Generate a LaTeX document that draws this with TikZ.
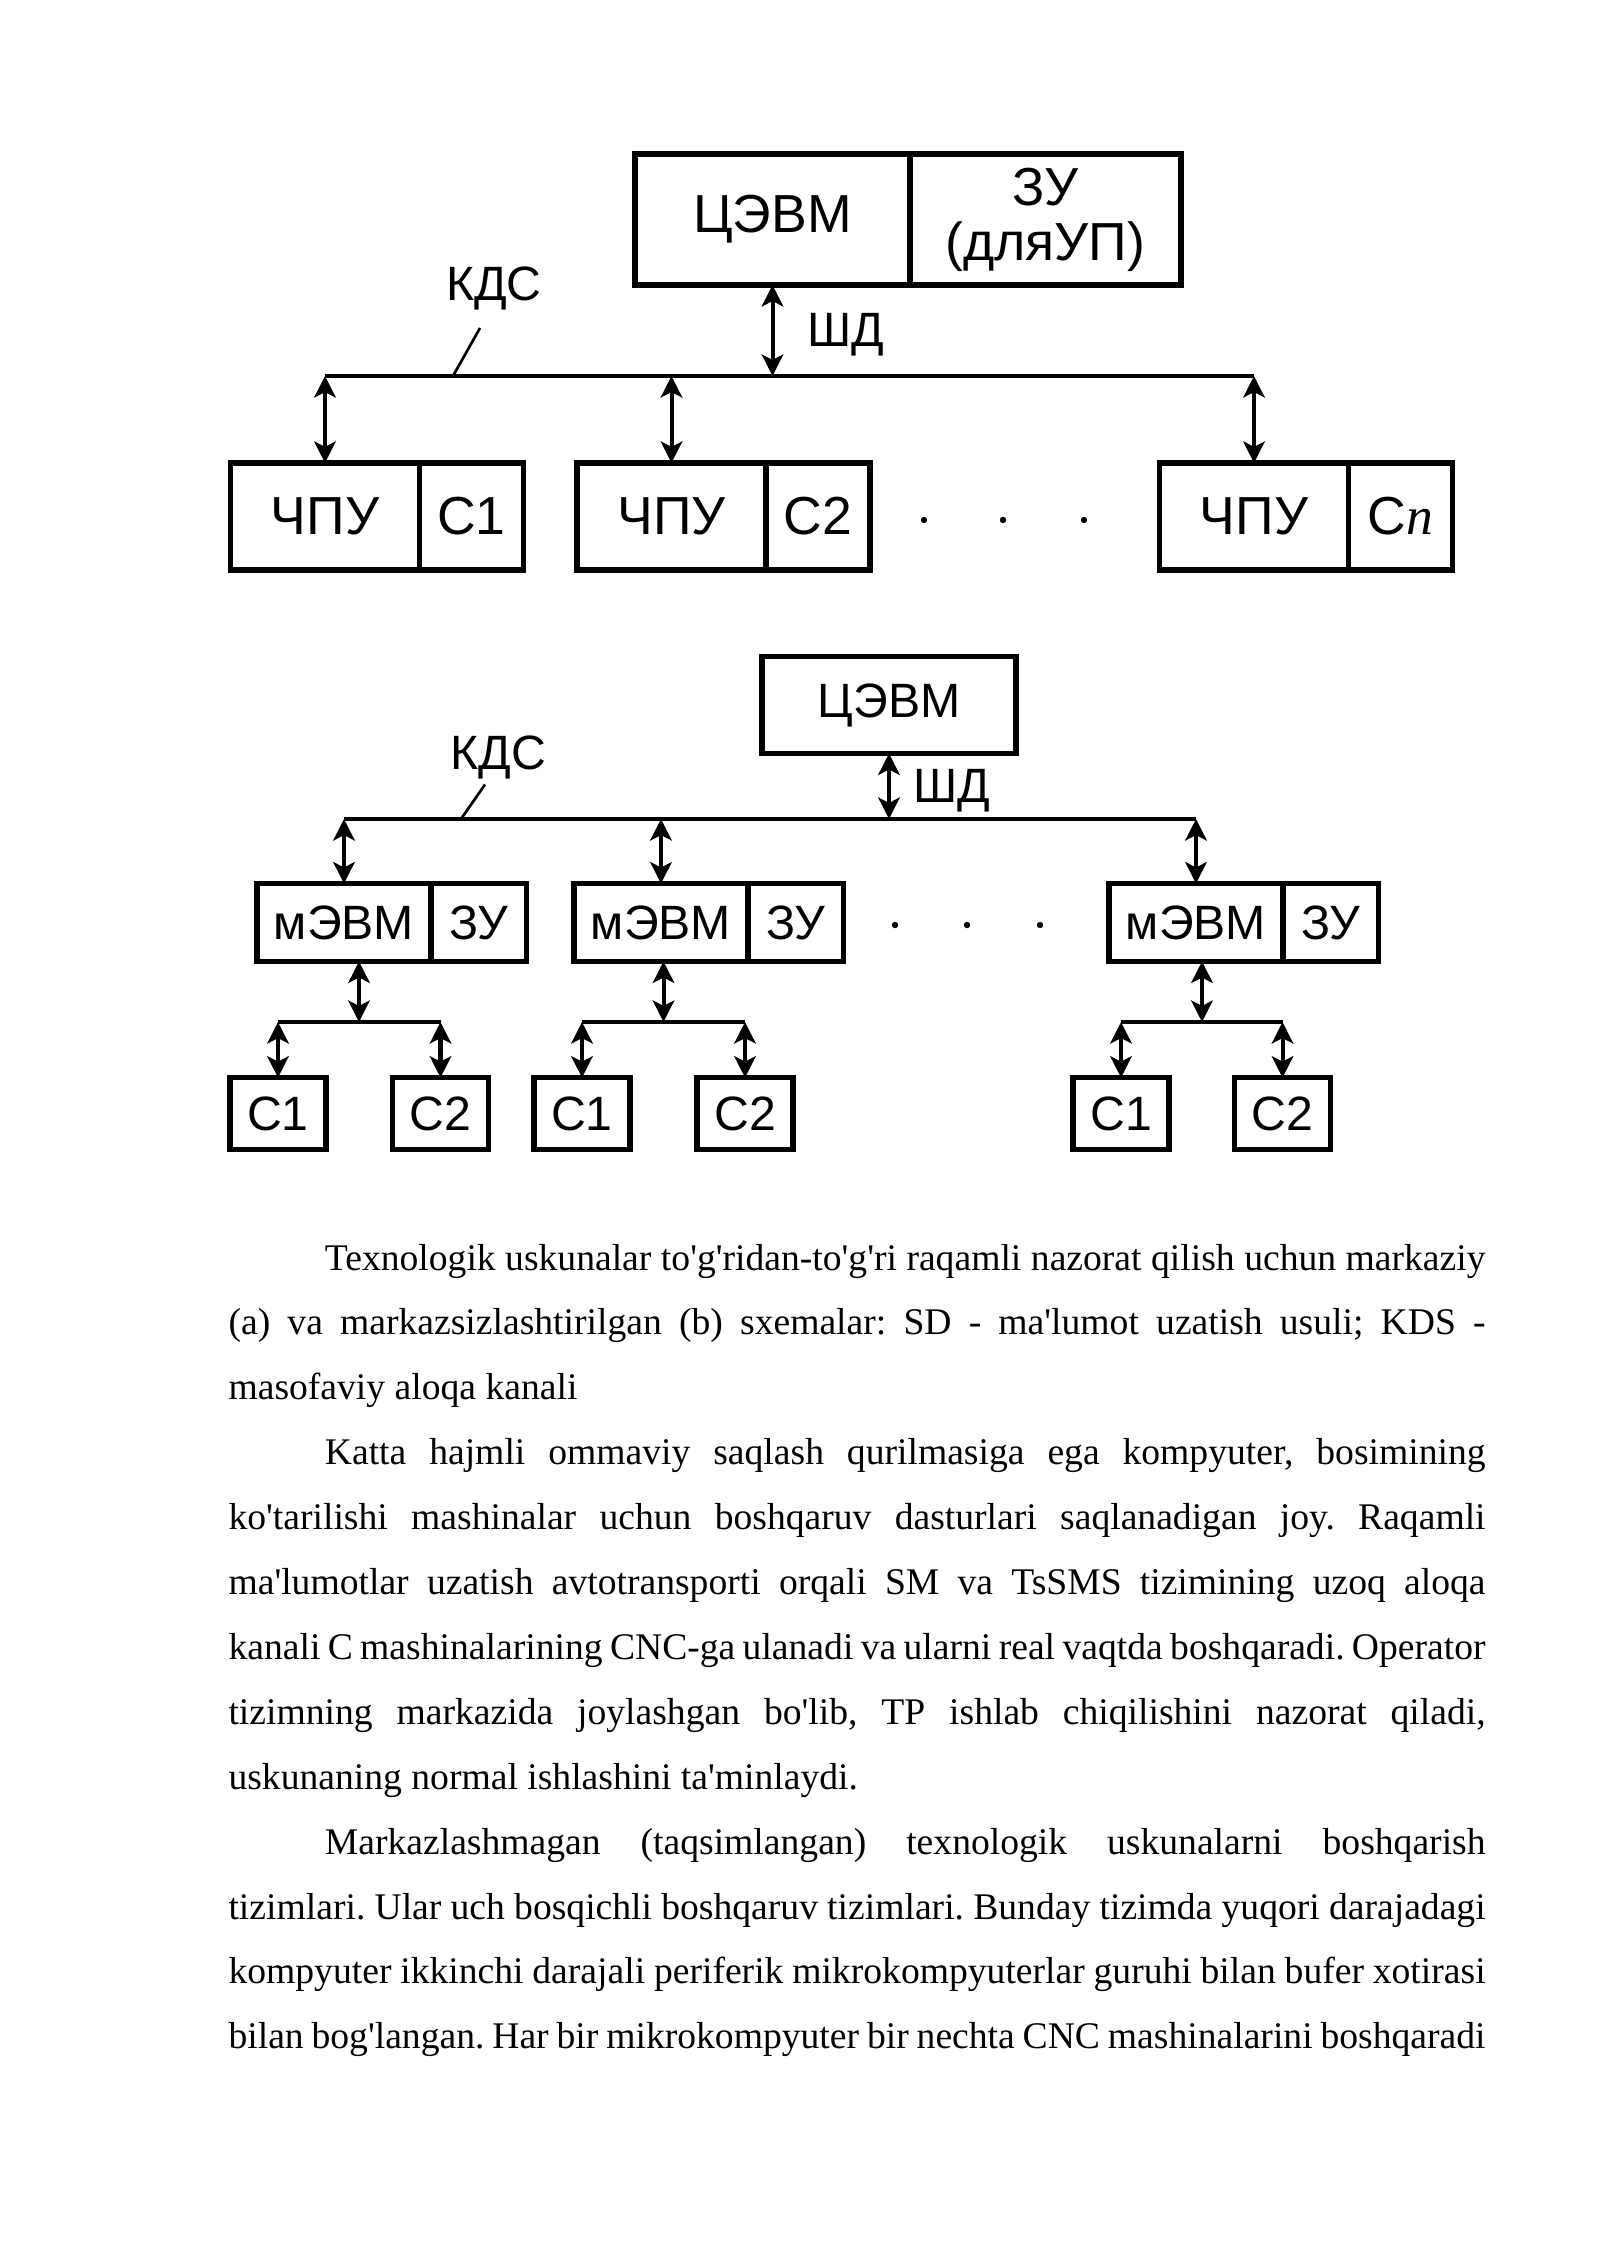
\documentclass[tikz,border=0pt]{standalone}
\usepackage{fontspec}
\setmainfont{Liberation Serif}[Ligatures=TeXOff]
\newfontfamily\diagfont{Liberation Sans}
\usetikzlibrary{positioning,arrows.meta}

\begin{document}
\begin{tikzpicture}[x=0.3735pt,y=-0.3735pt,>={Stealth[length=8pt,width=8pt,inset=2pt]}]

    \useasboundingbox (0,0) rectangle (1600,2262);

    %
    % Styles for blocks, buses and labels
    %
    \tikzstyle{block} = [draw, line width=2pt, rectangle, outer sep=0pt, inner sep=0pt,
                         align=center, text=black];
    \tikzstyle{bigBlock} = [block, font={\diagfont\fontsize{20}{20.5}\selectfont}];
    \tikzstyle{smallBlock} = [block, font={\diagfont\fontsize{18}{20}\selectfont}];
    \tikzstyle{bus} = [black, line width=1.7pt];
    \tikzstyle{link} = [black, line width=1.5pt, <->];
    \tikzstyle{leader} = [black, line width=1pt];
    \tikzstyle{busLabel} = [inner sep=0pt, font={\diagfont\fontsize{18}{20}\selectfont}];
    \tikzstyle{dot} = [circle, fill=black, inner sep=0pt, minimum size=2.4pt];
    \tikzstyle{caption} = [inner sep=0pt, text width=469.5pt, align=justify,
                           font={\fontsize{14.05}{24.24}\selectfont}];

    %
    % (a) central computer with its machines
    %
    \node[bigBlock, name=cevmA, minimum width=102.7pt, minimum height=48.9pt] at (772.5,219.5) {ЦЭВМ};
    \node[bigBlock, name=zuA, minimum width=101.2pt, minimum height=48.9pt, right=0pt of cevmA] {ЗУ\\(дляУП)};

    \node[bigBlock, name=chpuA1, minimum width=70.6pt, minimum height=40pt] at (325,516.5) {ЧПУ};
    \node[bigBlock, name=cA1, minimum width=38.8pt, minimum height=40pt, right=0pt of chpuA1] {C1};
    \node[bigBlock, name=chpuA2, minimum width=70.6pt, minimum height=40pt] at (671.5,516.5) {ЧПУ};
    \node[bigBlock, name=cA2, minimum width=38.8pt, minimum height=40pt, right=0pt of chpuA2] {C2};
    \node[bigBlock, name=chpuA3, minimum width=70.6pt, minimum height=40pt] at (1254,516.5) {ЧПУ};
    \node[bigBlock, name=cA3, minimum width=38.8pt, minimum height=40pt, right=0pt of chpuA3] {C{\rmfamily\itshape n}};

    \node[dot, name=dotA1] at (924,520) {};
    \node[dot, name=dotA2] at (1003,520) {};
    \node[dot, name=dotA3] at (1084,520) {};

    \coordinate (busA) at (772.5,376);
    \node[busLabel, name=shdA] at (846,335) {ШД};
    \node[busLabel, name=kdsA] at (494,288) {КДС};
    \coordinate (kdsAtop) at (480,328);
    \coordinate (kdsAfoot) at (453,376);

    \draw[bus] (chpuA1.north |- busA) -- (chpuA3.north |- busA);
    \draw[leader] (kdsAtop) -- (kdsAfoot);
    \draw (cevmA.south) edge[link] (cevmA.south |- busA);
    \draw (chpuA1.north |- busA) edge[link] (chpuA1.north);
    \draw (chpuA2.north |- busA) edge[link] (chpuA2.north);
    \draw (chpuA3.north |- busA) edge[link] (chpuA3.north);

    %
    % (b) central computer, micro computers and machines
    %
    \node[smallBlock, name=cevmB, minimum width=94.9pt, minimum height=36.2pt] at (889,705) {ЦЭВМ};

    \node[smallBlock, name=mevmB1, minimum width=65pt, minimum height=29.1pt] at (344,922.5) {мЭВМ};
    \node[smallBlock, name=zuB1, minimum width=35.6pt, minimum height=29.1pt, right=0pt of mevmB1] {ЗУ};
    \node[smallBlock, name=mevmB2, minimum width=65pt, minimum height=29.1pt] at (661,922.5) {мЭВМ};
    \node[smallBlock, name=zuB2, minimum width=35.6pt, minimum height=29.1pt, right=0pt of mevmB2] {ЗУ};
    \node[smallBlock, name=mevmB3, minimum width=65pt, minimum height=29.1pt] at (1196,922.5) {мЭВМ};
    \node[smallBlock, name=zuB3, minimum width=35.6pt, minimum height=29.1pt, right=0pt of mevmB3] {ЗУ};

    \node[smallBlock, name=cB11, minimum width=35.9pt, minimum height=26.9pt] at (278,1113.7) {C1};
    \node[smallBlock, name=cB12, minimum width=35.9pt, minimum height=26.9pt] at (440.5,1113.7) {C2};
    \node[smallBlock, name=cB21, minimum width=35.9pt, minimum height=26.9pt] at (582,1113.7) {C1};
    \node[smallBlock, name=cB22, minimum width=35.9pt, minimum height=26.9pt] at (745,1113.7) {C2};
    \node[smallBlock, name=cB31, minimum width=35.9pt, minimum height=26.9pt] at (1121,1113.7) {C1};
    \node[smallBlock, name=cB32, minimum width=35.9pt, minimum height=26.9pt] at (1282.5,1113.7) {C2};

    \node[dot, name=dotB1] at (895,925) {};
    \node[dot, name=dotB2] at (967,925) {};
    \node[dot, name=dotB3] at (1040,925) {};

    \coordinate (busB) at (889,819);
    \coordinate (subB1) at (359,1022);
    \coordinate (subB2) at (663.5,1022);
    \coordinate (subB3) at (1202,1022);
    \node[busLabel, name=shdB] at (952,791) {ШД};
    \node[busLabel, name=kdsB] at (498.5,757) {КДС};
    \coordinate (kdsBtop) at (485,784.5);
    \coordinate (kdsBfoot) at (461,819);

    \draw[bus] (mevmB1.north |- busB) -- (mevmB3.north |- busB);
    \draw[leader] (kdsBtop) -- (kdsBfoot);
    \draw (cevmB.south) edge[link] (cevmB.south |- busB);
    \draw (mevmB1.north |- busB) edge[link] (mevmB1.north);
    \draw (mevmB2.north |- busB) edge[link] (mevmB2.north);
    \draw (mevmB3.north |- busB) edge[link] (mevmB3.north);

    \draw[bus] (cB11.north |- subB1) -- (cB12.north |- subB1);
    \draw[bus] (cB21.north |- subB2) -- (cB22.north |- subB2);
    \draw[bus] (cB31.north |- subB3) -- (cB32.north |- subB3);
    \draw (mevmB1.south -| subB1) edge[link] (subB1);
    \draw (mevmB2.south -| subB2) edge[link] (subB2);
    \draw (mevmB3.south -| subB3) edge[link] (subB3);
    \draw (cB11.north |- subB1) edge[link] (cB11.north);
    \draw (cB12.north |- subB1) edge[link] (cB12.north);
    \draw (cB21.north |- subB2) edge[link] (cB21.north);
    \draw (cB22.north |- subB2) edge[link] (cB22.north);
    \draw (cB31.north |- subB3) edge[link] (cB31.north);
    \draw (cB32.north |- subB3) edge[link] (cB32.north);

    %
    % Text below the schemes
    %
    \node[caption, anchor=base west, name=captionText] at (228,1270) {%
      \frenchspacing\hyphenpenalty=10000\tolerance=9999\emergencystretch=20pt
      \hspace*{36pt}Texnologik uskunalar to'g'ridan-to'g'ri raqamli nazorat qilish uchun markaziy\linebreak
      (a) va markazsizlashtirilgan (b) sxemalar: SD - ma'lumot uzatish usuli; KDS -\linebreak
      masofaviy aloqa kanali\par
      \hspace*{36pt}Katta hajmli ommaviy saqlash qurilmasiga ega kompyuter, bosimining\linebreak
      ko'tarilishi mashinalar uchun boshqaruv dasturlari saqlanadigan joy. Raqamli\linebreak
      ma'lumotlar uzatish avtotransporti orqali SM va TsSMS tizimining uzoq aloqa\linebreak
      kanali C mashinalarining CNC-ga ulanadi va ularni real vaqtda boshqaradi. Operator\linebreak
      tizimning markazida joylashgan bo'lib, TP ishlab chiqilishini nazorat qiladi,\linebreak
      uskunaning normal ishlashini ta'minlaydi.\par
      \hspace*{36pt}Markazlashmagan (taqsimlangan) texnologik uskunalarni boshqarish\linebreak
      tizimlari. Ular uch bosqichli boshqaruv tizimlari. Bunday tizimda yuqori darajadagi\linebreak
      kompyuter ikkinchi darajali periferik mikrokompyuterlar guruhi bilan bufer xotirasi\linebreak
      bilan bog'langan. Har bir mikrokompyuter bir nechta CNC mashinalarini boshqaradi{\parfillskip=0pt\par}};

\end{tikzpicture}
\end{document}
